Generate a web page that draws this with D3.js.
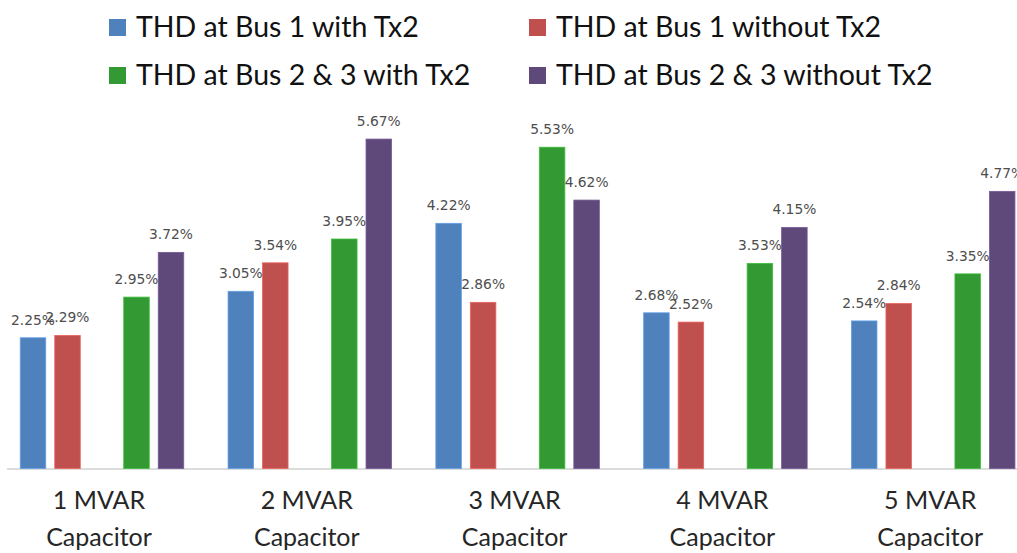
<!DOCTYPE html>
<html>
<head>
<meta charset="utf-8">
<script src="https://cdn.jsdelivr.net/npm/d3@7"></script>
<style>
  html, body { margin: 0; padding: 0; background: #fff; }
  svg { display: block; }
</style>
</head>
<body>
<svg id="chart" width="1017" height="553"></svg>
<script>
// ---- data ----
const categories = ["1 MVAR Capacitor", "2 MVAR Capacitor", "3 MVAR Capacitor", "4 MVAR Capacitor", "5 MVAR Capacitor"];
const seriesNames = ["THD at Bus 1 with Tx2", "THD at Bus 1 without Tx2", "THD at Bus 2 & 3 with Tx2", "THD at Bus 2 & 3 without Tx2"];
const bus1With     = [2.25, 3.05, 4.22, 2.68, 2.54];
const bus1Without  = [2.29, 3.54, 2.86, 2.52, 2.84];
const bus23With    = [2.95, 3.95, 5.53, 3.53, 3.35];
const bus23Without = [3.72, 5.67, 4.62, 4.15, 4.77];
const seriesColors = ["#4F81BD", "#C0504D", "#339933", "#5F497A"];
// slot order within a group (an empty slot separates the Bus 1 and Bus 2&3 pairs)
const slotKeys = ["s0", "s1", "gap", "s2", "s3"];

const seriesValues = [bus1With, bus1Without, bus23With, bus23Without];
const series = seriesNames.map((name, i) => ({ name, key: "s" + i, color: seriesColors[i], values: seriesValues[i] }));

// ---- layout ----
const svg = d3.select("#chart");
const W = 1017;
const baseY = 468.5;

const x0 = d3.scaleBand()
  .domain(categories)
  .range([-1.9, -1.9 + 5 * 207.8])
  .paddingInner(0.17)
  .paddingOuter(0.085);

const x1 = d3.scaleBand()
  .domain(slotKeys)
  .range([0, x0.bandwidth()])
  .paddingInner(0.26)
  .paddingOuter(0.13);

const y = d3.scaleLinear().domain([0, 6]).range([baseY, baseY - 6 * 58.1]);

// axis line
const xAxis = d3.axisBottom(x0).tickSize(0).tickFormat("");
const axisG = svg.append("g").attr("transform", `translate(0,${baseY + 0.5})`).call(xAxis);
axisG.select(".domain").attr("d", `M7,0H${W}`).attr("stroke", "#D0D0D0").attr("stroke-width", 1.5);

// bars
const groups = svg.append("g").selectAll("g")
  .data(categories)
  .join("g")
  .attr("transform", d => `translate(${x0(d)},0)`);

const barData = (c, ci) => series.map(s => ({ s, v: s.values[ci] }));

groups.each(function(c, ci) {
  const g = d3.select(this);
  const data = barData(c, ci);
  g.selectAll("rect")
    .data(data)
    .join("rect")
    .attr("x", d => x1(d.s.key))
    .attr("y", d => y(d.v))
    .attr("width", x1.bandwidth())
    .attr("height", d => y(0) - y(d.v))
    .attr("fill", d => d.s.color)
    .attr("stroke", d => d3.color(d.s.color).brighter(0.6))
    .attr("stroke-width", 0.8);
  g.selectAll("text.val")
    .data(data)
    .join("text")
    .attr("class", "val")
    .attr("x", d => x1(d.s.key) + x1.bandwidth() / 2)
    .attr("y", d => y(d.v) - 13)
    .attr("text-anchor", "middle")
    .attr("font-family", "DejaVu Sans, sans-serif")
    .attr("font-size", 13.8)
    .attr("fill", "#4d4d4d")
    .text(d => d.v.toFixed(2) + "%");
});

// category labels
const catG = svg.append("g");
categories.forEach(c => {
  const m = c.match(/^(.*MVAR) (.*)$/);
  const cx = x0(c) + x0.bandwidth() / 2 - 3;
  const t = catG.append("text")
    .attr("text-anchor", "middle")
    .attr("font-family", "Lato, sans-serif")
    .attr("font-size", 25)
    .attr("fill", "#262626");
  t.append("tspan").attr("x", cx).attr("y", 509).text(m[1]);
  t.append("tspan").attr("x", cx).attr("y", 546).text(m[2]);
});

// legend
const legendPos = [[109, 37], [529, 37], [109, 85], [529, 85]];
const leg = svg.append("g");
series.forEach((s, i) => {
  const [lx, ly] = legendPos[i];
  leg.append("rect")
    .attr("x", lx).attr("y", ly - 18)
    .attr("width", 17).attr("height", 17)
    .attr("fill", s.color);
  leg.append("text")
    .attr("x", lx + 27).attr("y", ly)
    .attr("font-family", "Lato, sans-serif")
    .attr("font-size", 28.5)
    .attr("fill", "#111")
    .text(s.name);
});
</script>
</body>
</html>
